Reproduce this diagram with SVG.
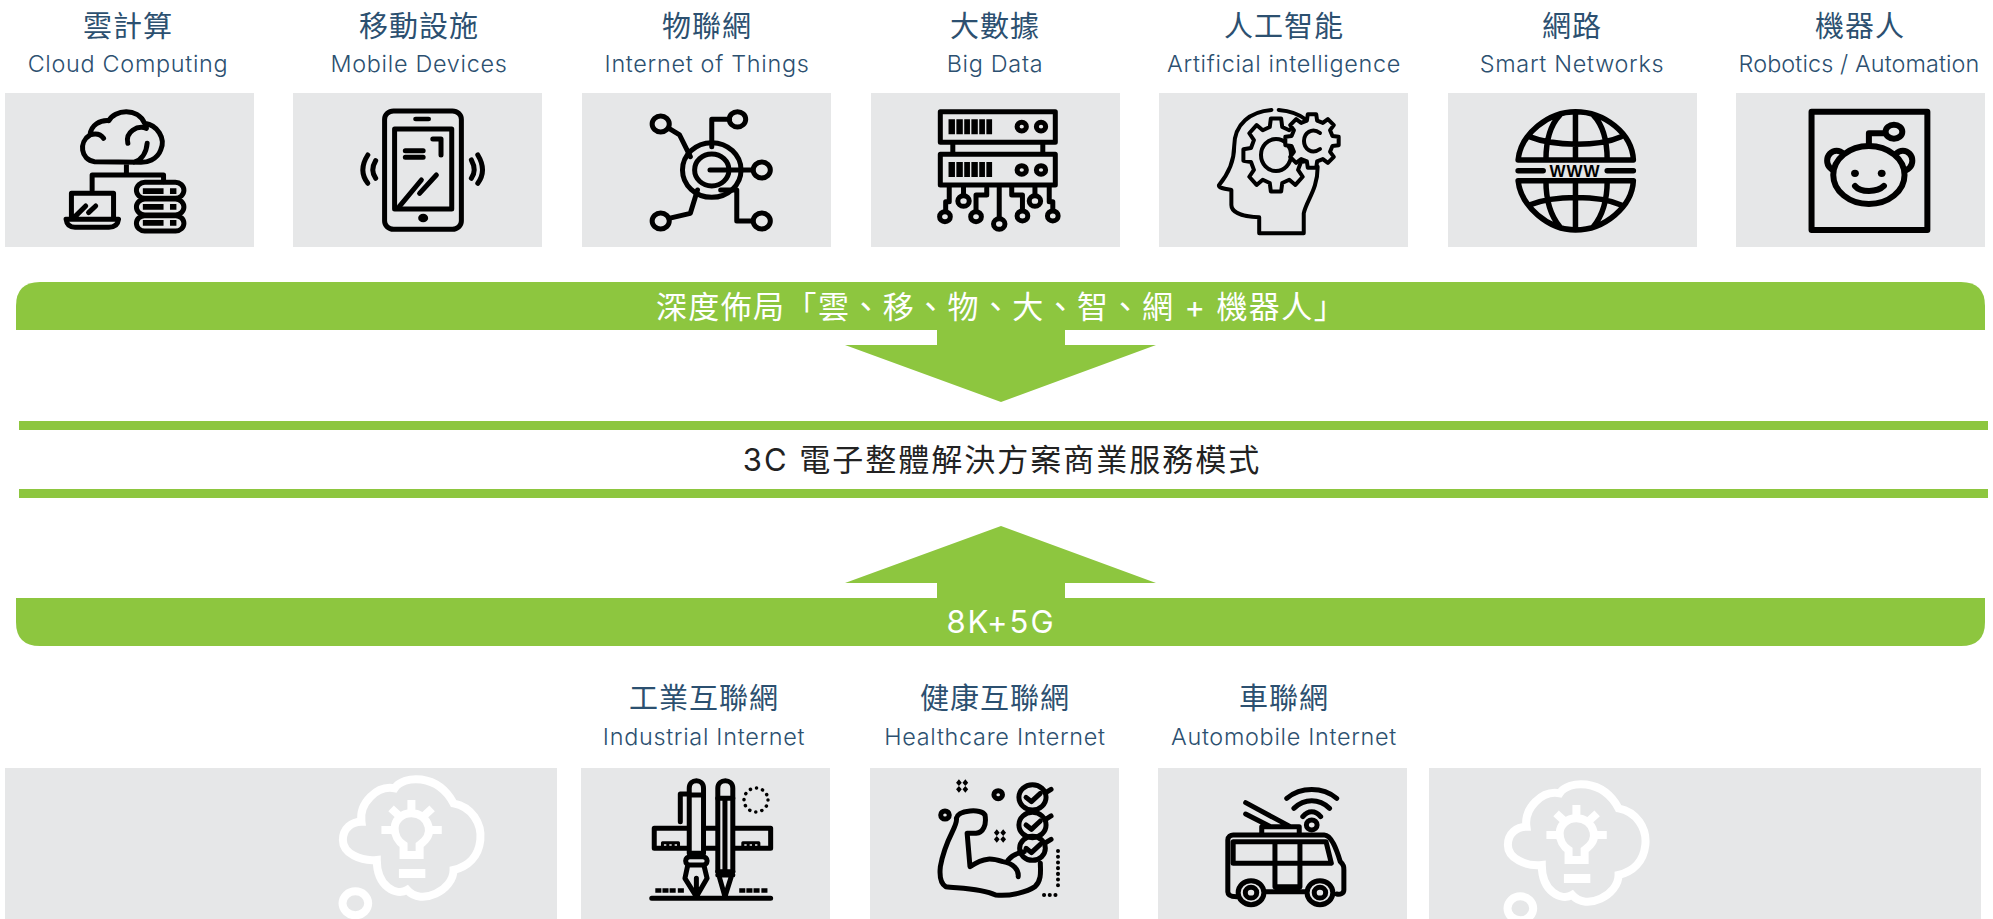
<svg xmlns="http://www.w3.org/2000/svg" width="1993" height="919" viewBox="0 0 1993 919">
<style>
.b{fill:#e6e7e8}
.g{fill:#8dc63f}
.s{fill:none;stroke:#000;stroke-width:5;vector-effect:non-scaling-stroke;stroke-linecap:round;stroke-linejoin:round}
.sf{fill:#e6e7e8;stroke:#000;stroke-width:5;vector-effect:non-scaling-stroke;stroke-linejoin:round}
.t{stroke-width:6}
.k{fill:#000}
.w{fill:none;stroke:#fff;stroke-width:8;vector-effect:non-scaling-stroke}
.wf{fill:#fff}
.zh{font-family:"Noto Sans CJK TC","Noto Sans CJK SC",sans-serif;font-size:29px;fill:#2c5070;text-anchor:middle;font-weight:400;letter-spacing:1px}
.en{font-family:Inter,"Liberation Sans",sans-serif;font-size:23.4px;fill:#2c5070;text-anchor:middle;font-weight:350;letter-spacing:.7px}
.c{font-family:Inter,"Noto Sans CJK TC","Noto Sans CJK SC",sans-serif;font-size:31px;text-anchor:middle;font-weight:400;letter-spacing:2px}
</style>
<defs>
<path id="gear" class="sf" style="stroke-width:4" d="M.757-.189L.988-.156.988.156.757.189.669.402.809.588.588.809.402.669.189.757.156.988-.156.988-.189.757-.402.669-.588.809-.809.588-.669.402-.757.189-.988.156-.988-.156-.757-.189-.669-.402-.809-.588-.588-.809-.402-.669-.189-.757-.156-.988.156-.988.189-.757.402-.669.588-.809.809-.588.669-.402Z"/>
<g id="idea">
<path class="w" d="M172 455C165 400 215 345 265 355C290 315 385 310 430 400C480 410 510 460 505 510C500 560 470 590 430 600C430 660 340 710 300 660C270 680 215 650 215 570C170 575 120 550 120 510C120 475 145 455 172 455Z"/>
<path class="w" d="M290 525V555H335V525C355 510 365 490 360 470C355 445 335 430 312 430C285 430 265 450 265 475C265 495 275 515 290 525ZM312 390V430M255 415L280 440M370 415L345 440M228 480H265M397 480H360"/>
<rect class="wf" x="277" y="597" width="74" height="27"/>
<ellipse class="w" cx="155" cy="700" rx="36" ry="36"/>
</g>
</defs>

<g id="connectors">
<path class="g" d="M937 330V345H845L1001 402L1156 345H1065V330Z"/>
<path class="g" d="M937 598V583H845L1001 526L1156 583H1065V598Z"/>
</g>

<g id="band-top">
<path class="g" d="M16 330V306Q16 282 40 282H1961Q1985 282 1985 306V330Z"/>
<text class="c" x="1001" y="318" fill="#fff" style="letter-spacing:1.4px">深度佈局「雲、移、物、大、智、網 + 機器人」</text>
</g>
<g id="band-middle">
<rect class="g" x="19" y="421" width="1969" height="9"/>
<rect class="g" x="19" y="489" width="1969" height="9"/>
<text class="c" x="1002" y="471" fill="#222">3C 電子整體解決方案商業服務模式</text>
</g>
<g id="band-bottom">
<path class="g" d="M16 598V622Q16 646 40 646H1961Q1985 646 1985 622V598Z"/>
<text class="c" x="1001" y="633" fill="#fff">8K+5G</text>
</g>

<g id="cloud">
<text class="zh" x="128" y="37">雲計算</text><text class="en" x="128" y="72">Cloud Computing</text>
<rect class="b" x="5" y="93" width="249" height="154"/>
<g transform="scale(.3571 .3333)">
<path class="s" d="M265 485C225 480 220 425 252 405C255 375 280 360 305 362C320 330 385 320 405 370C440 375 465 415 450 450C440 480 410 487 395 487ZM290 415C280 400 265 400 252 405M358 430C350 395 385 375 410 385M412 430C410 460 395 480 375 487M354 490V522M258 570V525H458V545M200 655V580H318V655M185 658H332C330 675 320 682 305 682H210C195 682 187 675 185 658ZM210 650L240 618M248 638L268 618"/>
<rect class="s" x="382" y="547" width="133" height="48" rx="24"/><rect class="s" x="382" y="597" width="133" height="48" rx="24"/><rect class="s" x="382" y="647" width="133" height="46" rx="23"/>
<path class="k" d="M400 565h58v17h-58zM476 565h18v17h-18zM400 612h58v17h-58zM476 612h18v17h-18zM400 660h58v17h-58zM476 660h18v17h-18z"/>
</g></g>

<g id="mobile">
<text class="zh" x="419" y="37">移動設施</text><text class="en" x="419" y="72">Mobile Devices</text>
<rect class="b" x="293" y="93" width="249" height="154"/>
<g transform="scale(.3571 .3333)">
<rect class="s" x="1077" y="333" width="215" height="355" rx="25"/><rect class="s" x="1105" y="387" width="160" height="240"/>
<rect class="k" x="1157" y="350" width="50" height="14" rx="7"/><ellipse class="k" cx="1185" cy="654" rx="14" ry="13"/>
<path class="s" d="M1135 452H1185M1135 472H1185M1212 417H1235V465M1118 620L1180 540M1175 580L1222 525M1030 465C1012 495 1012 525 1030 550M1052 482C1042 500 1042 520 1052 535M1320 480C1330 500 1330 520 1320 535M1338 465C1355 495 1355 525 1338 550"/>
</g></g>

<g id="iot">
<text class="zh" x="707" y="37">物聯網</text><text class="en" x="707" y="72">Internet of Things</text>
<rect class="b" x="582" y="93" width="249" height="154"/>
<g transform="translate(560 0) scale(.3571 .3333)">
<circle class="s" cx="425" cy="510" r="82"/><circle class="s" cx="425" cy="510" r="48"/>
<path class="s" d="M420 510H540M425 440V358H475M305 385L335 405L365 470M385 570L365 640L305 655M450 570H495V663H540"/>
<circle class="s" cx="497" cy="358" r="23"/><circle class="s" cx="282" cy="372" r="24"/><circle class="s" cx="565" cy="510" r="24"/><circle class="s" cx="282" cy="663" r="24"/><circle class="s" cx="565" cy="663" r="24"/>
</g></g>

<g id="bigdata">
<text class="zh" x="995" y="37">大數據</text><text class="en" x="995" y="72">Big Data</text>
<rect class="b" x="871" y="93" width="249" height="154"/>
<g transform="translate(560 0) scale(.3571 .3333)">
<rect class="s" x="1065" y="335" width="322" height="92"/><rect class="s" x="1065" y="463" width="322" height="92"/>
<path class="k" d="M1088 358h18v45h-18zM1110 358h18v45h-18zM1132 358h16v45h-16zM1152 358h18v45h-18zM1174 358h16v45h-16zM1194 358h16v45h-16zM1088 486h18v45h-18zM1110 486h18v45h-18zM1132 486h16v45h-16zM1152 486h18v45h-18zM1174 486h16v45h-16zM1194 486h16v45h-16z"/>
<circle class="s" cx="1293" cy="380" r="13"/><circle class="s" cx="1347" cy="380" r="13"/><circle class="s" cx="1293" cy="510" r="13"/><circle class="s" cx="1347" cy="510" r="13"/>
<path class="s" d="M1100 430V460M1352 430V460M1090 560V605H1080V630M1130 560V585M1195 565V585H1165V630M1230 560V655M1265 560V585H1295V630M1330 560V585M1370 560V605H1380V630"/>
<circle class="s" cx="1078" cy="650" r="15"/><circle class="s" cx="1130" cy="603" r="16"/><circle class="s" cx="1165" cy="650" r="15"/><circle class="s" cx="1230" cy="672" r="16"/><circle class="s" cx="1295" cy="648" r="15"/><circle class="s" cx="1330" cy="603" r="16"/><circle class="s" cx="1380" cy="648" r="15"/>
</g></g>

<g id="ai">
<text class="zh" x="1284" y="37">人工智能</text><text class="en" x="1284" y="72">Artificial intelligence</text>
<rect class="b" x="1159" y="93" width="249" height="154"/>
<g transform="translate(1120 0) scale(.5568 .3333)">
<path class="s" style="stroke-width:4" d="M272 330C235 335 205 370 205 440C205 480 195 520 178 555C175 565 195 568 200 570V615C200 640 225 650 250 652V700H330V640C335 600 355 570 355 500M285 330C300 332 320 340 335 360"/>
</g>
<use href="#gear" transform="translate(1276 155) scale(33 37)"/>
<ellipse class="s" style="stroke-width:4" cx="1276" cy="155" rx="15" ry="16"/>
<use href="#gear" transform="translate(1312 141) scale(27 27)"/>
<path class="s" style="stroke-width:4" d="M1320 133C1312 127 1304 133 1304 141C1304 149 1312 155 1320 149"/>
</g>

<g id="network">
<text class="zh" x="1572" y="37">網路</text><text class="en" x="1572" y="72">Smart Networks</text>
<rect class="b" x="1448" y="93" width="249" height="154"/>
<g transform="translate(1120 0) scale(.5568 .3333)">
<path class="s" style="stroke-width:5.5" d="M715 480C720 400 770 335 818 335C870 335 920 400 922 480ZM818 335V480M790 345C770 380 765 430 765 480M850 345C870 380 875 430 875 480M735 410C780 440 860 440 900 410M715 542C720 620 770 690 818 690C870 690 920 620 922 542ZM818 542V690M765 542C765 590 770 640 790 680M875 542C875 590 870 640 850 680M735 615C780 585 860 585 900 615M715 512H760M875 512H922"/>
</g>
<text x="1575" y="177" font-family="Liberation Sans,sans-serif" font-size="17" font-weight="700" text-anchor="middle" letter-spacing="1">WWW</text>
</g>

<g id="robot">
<text class="zh" x="1860" y="37">機器人</text><text class="en" x="1859" y="72" style="letter-spacing:.1px">Robotics / Automation</text>
<rect class="b" x="1736" y="93" width="249" height="154"/>
<g transform="translate(1120 0) scale(.5568 .3333)">
<rect class="s t" style="stroke-width:6" x="1242" y="335" width="208" height="355"/>
<path class="s" style="stroke-width:6" d="M1345 440V400H1372"/>
<ellipse class="sf" style="stroke-width:6" cx="1287" cy="482" rx="17" ry="30"/><ellipse class="sf" style="stroke-width:6" cx="1406" cy="482" rx="17" ry="30"/>
<ellipse class="sf" style="stroke-width:6" cx="1345" cy="525" rx="64" ry="87"/>
<ellipse class="s" style="stroke-width:6" cx="1390" cy="395" rx="15" ry="21"/>
<ellipse class="k" cx="1320" cy="520" rx="7" ry="11"/><ellipse class="k" cx="1368" cy="520" rx="7" ry="11"/>
<path class="s" style="stroke-width:6" d="M1320 558C1330 578 1360 578 1372 558"/>
</g></g>

<g id="idea-left">
<rect class="b" x="5" y="768" width="552" height="151"/>
<use href="#idea" transform="translate(300 670) scale(.3571 .3333)"/>
</g>

<g id="industrial">
<text class="zh" x="704" y="709">工業互聯網</text><text class="en" x="704" y="745">Industrial Internet</text>
<rect class="b" x="581" y="768" width="249" height="151"/>
<g transform="translate(300 670) scale(.3571 .3333)">
<rect class="s" x="992" y="475" width="326" height="60"/>
<path class="s" style="stroke-width:3" d="M1015 535V518H1030V535M1030 518H1045V535M1045 518H1060V535M1240 535V518H1255V535M1255 518H1270V535M1270 518H1285V535"/>
<path class="sf" d="M1090 550V355C1090 325 1130 325 1130 355V550Z"/>
<path class="sf" d="M1170 605V355C1170 325 1212 325 1212 355V605Z"/>
<path class="s" d="M1090 375H1130M1090 372H1065V455M1170 385H1212M1190 390V600"/>
<rect class="sf" x="1080" y="560" width="60" height="25" rx="12"/>
<path class="s" d="M1085 590L1078 625L1110 680L1140 625L1132 590M1110 680V625M1170 605L1190 680L1212 605M1170 615H1212M985 685H1318"/>
<path class="k" d="M995 655h17v13h-17zM1015 655h17v13h-17zM1035 655h17v13h-17zM1058 655h17v13h-17zM1230 655h17v13h-17zM1250 655h17v13h-17zM1270 655h17v13h-17zM1292 655h17v13h-17z"/>
</g>
<ellipse cx="756" cy="800" rx="12" ry="12" fill="none" stroke="#000" stroke-width="3.5" stroke-linecap="round" stroke-dasharray="0.1 6.2"/>
</g>

<g id="healthcare">
<text class="zh" x="995" y="709">健康互聯網</text><text class="en" x="995" y="745">Healthcare Internet</text>
<rect class="b" x="870" y="768" width="249" height="151"/>
<g transform="translate(860 670) scale(.3571 .3333)">
<path class="s" d="M270 445C275 420 340 415 350 435C355 465 345 488 325 490L300 490L308 590C350 560 370 565 400 575C430 580 445 600 443 620M270 445C275 470 240 500 225 590C222 620 225 640 240 650C280 655 340 655 380 675C420 680 470 665 490 650C510 630 505 600 505 580M415 570C425 555 445 548 460 545"/>
<circle class="s" cx="483" cy="382" r="38"/><circle class="s" cx="483" cy="465" r="38"/><circle class="s" cx="483" cy="535" r="36"/>
<path class="s" d="M465 382L480 395L505 370M520 368L535 358M465 465L480 478L505 453M520 448L535 438M465 535L480 548L505 523M520 518L535 508"/>
<circle class="s" cx="238" cy="435" r="12"/><circle class="s" cx="387" cy="374" r="12"/>
<path class="k" d="M277 328l8 10-8 10-8-10zM295 328l8 10-8 10-8-10zM277 348l8 10-8 10-8-10zM295 348l8 10-8 10-8-10zM383 478l8 10-8 10-8-10zM401 478l8 10-8 10-8-10zM383 498l8 10-8 10-8-10zM401 498l8 10-8 10-8-10z"/>
</g>
<path d="M1058 851V887M1044 895H1058" fill="none" stroke="#000" stroke-width="4" stroke-linecap="round" stroke-dasharray="0.1 5.6"/>
</g>

<g id="automobile">
<text class="zh" x="1284" y="709">車聯網</text><text class="en" x="1284" y="745">Automobile Internet</text>
<rect class="b" x="1158" y="768" width="249" height="151"/>
<g transform="translate(860 670) scale(.3571 .3333)">
<path class="s" d="M1030 665V510C1030 500 1038 495 1045 495H1300C1320 495 1335 540 1345 575C1355 585 1355 590 1355 600V660C1355 670 1345 675 1335 672M1030 665C1030 675 1040 680 1055 680M1045 515H1305L1320 580H1045ZM1162 515V650H1232V515M1130 665H1255M1125 490V470H1230V490M1080 398L1205 470M1080 432L1150 470M1240 440C1255 420 1275 420 1290 440M1215 415C1245 385 1285 385 1315 415M1195 385C1235 350 1295 350 1335 385"/>
<circle class="sf" cx="1095" cy="668" r="36"/><circle class="s" cx="1095" cy="668" r="16"/><circle class="sf" cx="1288" cy="668" r="36"/><circle class="s" cx="1288" cy="668" r="16"/>
<circle class="s" cx="1265" cy="465" r="15"/>
</g></g>

<g id="idea-right">
<rect class="b" x="1429" y="768" width="552" height="151"/>
<use href="#idea" transform="translate(1465 675) scale(.3571 .3333)"/>
</g>
</svg>
